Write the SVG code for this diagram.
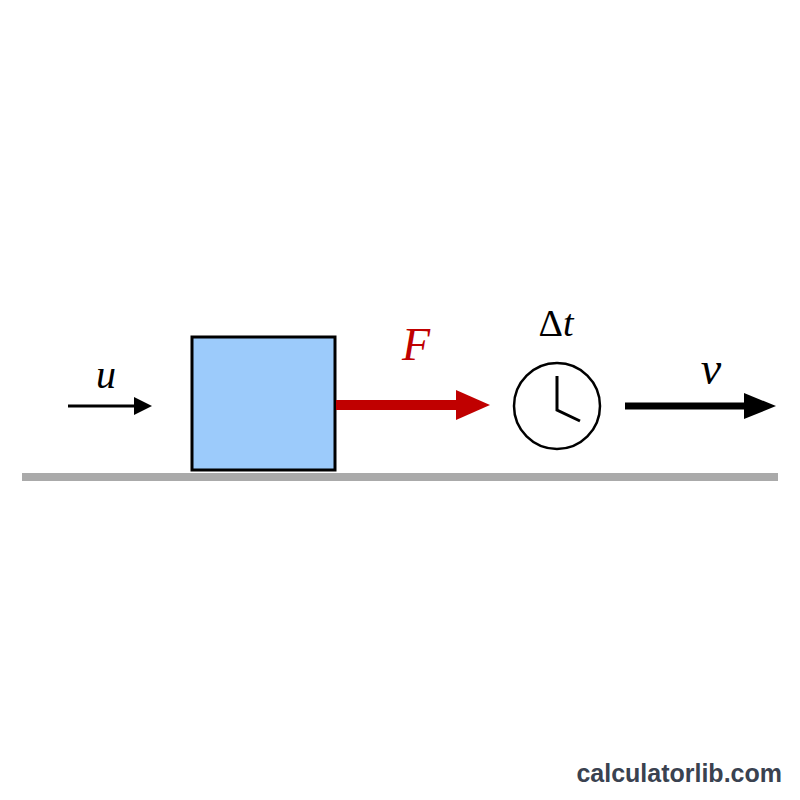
<svg xmlns="http://www.w3.org/2000/svg" width="800" height="800" viewBox="0 0 800 800">
<style>
.lbl{font-family:"Liberation Serif",serif;font-style:italic;text-anchor:middle}
</style>
<rect width="800" height="800" fill="#fff"/>
<rect id="ground" x="22" y="473" width="756" height="8" fill="#aaaaaa"/>
<g id="block"><rect x="192" y="337" width="143" height="133" fill="#9ccbfb" stroke="#000" stroke-width="3"/></g>
<g id="connectors">
<line x1="68" y1="406" x2="138" y2="406" stroke="#000" stroke-width="3"/>
<polygon points="152,406 134,397 134,415" fill="#000"/>
<line x1="336" y1="405" x2="458" y2="405" stroke="#c00000" stroke-width="10"/>
<polygon points="490,405 456,390 456,420" fill="#c00000"/>
<line x1="625" y1="406" x2="746" y2="406" stroke="#000" stroke-width="7"/>
<polygon points="776,406 744,393 744,419" fill="#000"/>
</g>
<g id="clock">
<circle cx="557" cy="406" r="43" fill="#fff" stroke="#000" stroke-width="2.5"/>
<polyline points="557,376 557,410 580,421" fill="none" stroke="#000" stroke-width="3"/>
</g>
<text class="lbl" x="106" y="388" font-size="40">u</text>
<text class="lbl" x="416" y="360" font-size="46" fill="#c00000">F</text>
<text x="556" y="336" font-size="38" font-family="Liberation Serif,serif" text-anchor="middle">Δ<tspan font-style="italic">t</tspan></text>
<text class="lbl" x="711" y="384" font-size="46">v</text>
<text x="782" y="782" font-size="25" font-weight="bold" font-family="Liberation Sans,Arial,sans-serif" fill="#3a4250" text-anchor="end">calculatorlib.com</text>
</svg>
